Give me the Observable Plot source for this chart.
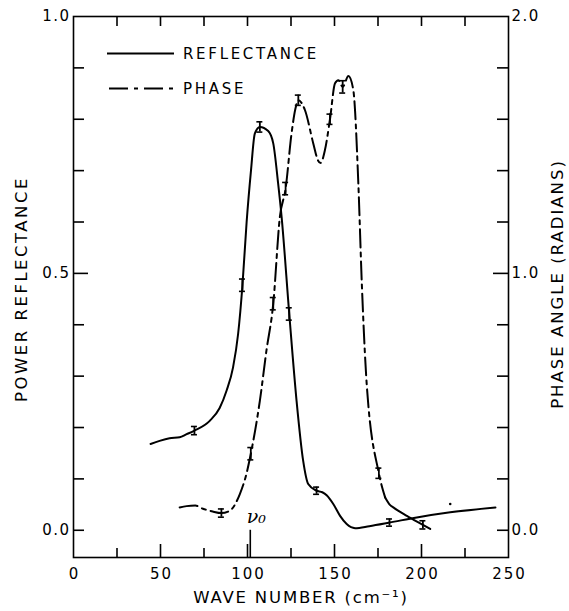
<!DOCTYPE html>
<html><head><meta charset="utf-8">
<script src="https://cdn.jsdelivr.net/npm/d3@7"></script>
<script src="https://cdn.jsdelivr.net/npm/@observablehq/plot@0.6"></script>
<style>
html,body{margin:0;padding:0;background:#fff;}
#wrap{position:relative;width:569px;height:611px;overflow:hidden;}
#legend{position:absolute;left:0;top:0;}
</style></head><body><div id="wrap"></div>
<script>
// Reflectance curve (wave number cm^-1, power reflectance)
const reflX = [44.3, 49.5, 55.2, 61, 65, 69.5, 78.3, 84, 88, 91.7, 94.6, 97.1, 99.5, 102, 104.2, 107.1, 111.9, 114.8, 117.6, 119.6, 124, 128.2, 132, 134.9, 139.7, 143, 145.5, 149.3, 153.2, 157, 161.8, 170, 181.6, 197.3, 216.5, 242.5];
const reflY = [0.168, 0.174, 0.179, 0.181, 0.187, 0.194, 0.213, 0.238, 0.272, 0.317, 0.382, 0.477, 0.6, 0.7, 0.772, 0.785, 0.777, 0.753, 0.675, 0.61, 0.421, 0.252, 0.135, 0.09, 0.077, 0.074, 0.068, 0.051, 0.028, 0.012, 0.004, 0.008, 0.015, 0.025, 0.035, 0.0445];
// Phase curve (radians), dashed part
const phaseX = [61, 65, 70, 74.4, 80, 85, 89.8, 95.6, 99.4, 101.9, 107.1, 110.9, 114.8, 118.6, 121.9, 125.3, 127.5, 129.2, 133, 137.8, 140.5, 142, 144.5, 147.4, 150.3, 152.2, 154.7, 158, 160.8, 163.7, 165.7, 168.5, 175.5, 179.1];
const phaseRad = [0.089, 0.094, 0.096, 0.084, 0.073, 0.067, 0.076, 0.141, 0.22, 0.298, 0.504, 0.70, 0.882, 1.22, 1.33, 1.544, 1.64, 1.674, 1.636, 1.506, 1.44, 1.43, 1.48, 1.60, 1.74, 1.752, 1.726, 1.768, 1.714, 1.35, 0.96, 0.57, 0.222, 0.128];
// Phase curve tail (solid)
const phaseTailX = [179.1, 182, 184, 191.6, 200.8, 205];
const phaseTailRad = [0.128, 0.098, 0.088, 0.056, 0.021, 0.005];
// Error bars
const reflErrX = [69.5, 97.1, 107.1, 124, 139.7, 181.6];
const reflErrY = [0.194, 0.477, 0.785, 0.421, 0.077, 0.015];
const reflErrE = [0.008, 0.012, 0.01, 0.012, 0.007, 0.007];
const phaseErrX = [85, 101.9, 114.8, 121.9, 129.2, 147.4, 154.7, 175.5, 200.8];
const phaseErrRad = [0.067, 0.298, 0.882, 1.33, 1.674, 1.60, 1.726, 0.222, 0.021];
const phaseErrE = [0.016, 0.024, 0.024, 0.024, 0.02, 0.02, 0.024, 0.02, 0.016];
// Stray ink dot in the original figure
const strayX = [216.5];
const strayY = [0.051];
// Ticks and labels
const xTickLabels = [0, 50, 100, 150, 200, 250];
const xMajorTicks = [50, 100, 150, 200];
const xMinorTicks = [25, 75, 125, 175, 225];
const xTopTicks = [25, 50, 75, 100, 125, 150, 175, 200, 225];
const yTicks = [0, 0.1, 0.2, 0.3, 0.4, 0.6, 0.7, 0.8, 0.9];
const yMajorTicks = [0.5];
const yLabelTicks = [0, 0.5, 1.0];
const nu0 = 101.6;
const xTitle = "WAVE NUMBER (cm\u207B\u00B9)";
const yTitle = "POWER REFLECTANCE";
const y2Title = "PHASE ANGLE (RADIANS)";
const legendLabels = ["REFLECTANCE", "PHASE"];

const refl = reflX.map((x, i) => ({x, y: reflY[i]}));
const phase = phaseX.map((x, i) => ({x, y: phaseRad[i] / 2}));
const phaseTail = phaseTailX.map((x, i) => ({x, y: phaseTailRad[i] / 2}));
const errs = [
  ...reflErrX.map((x, i) => ({x, y: reflErrY[i], e: reflErrE[i]})),
  ...phaseErrX.map((x, i) => ({x, y: phaseErrRad[i] / 2, e: phaseErrE[i] / 2}))
];
const stray = strayX.map((x, i) => ({x, y: strayY[i]}));
const yMin = -0.053;
const font = "DejaVu Sans, sans-serif";
const dash = "18,5,4,5";
const W = 569, H = 611, mL = 73, mR = 61, mT = 16, mB = 54;
const fw = W - mL - mR, fh = H - mT - mB;
const tk = {stroke: "#000", strokeWidth: 1.6};

const chart = Plot.plot({
  width: W, height: H,
  marginLeft: mL, marginRight: mR, marginTop: mT, marginBottom: mB,
  style: {fontFamily: font, fontSize: "15px", background: "#fff", color: "#000"},
  x: {domain: [0, 250]},
  y: {domain: [yMin, 1.0]},
  marks: [
    Plot.frame({stroke: "#000", strokeWidth: 1.6}),
    // tick labels
    Plot.axisX({anchor: "bottom", ticks: xTickLabels, tickSize: 0, tickPadding: 11, label: null, tickFormat: d => String(d), dx: 1}),
    Plot.axisY({anchor: "left", ticks: yLabelTicks, tickSize: 0, tickPadding: 3, tickFormat: d => d.toFixed(1), label: null}),
    Plot.axisY({anchor: "right", ticks: yLabelTicks, tickSize: 0, tickPadding: 3, tickFormat: d => (2 * d).toFixed(1), label: null}),
    // inward ticks
    Plot.tickX(xMajorTicks, {x: d => d, insetTop: fh - 13, ...tk}),
    Plot.tickX(xMinorTicks, {x: d => d, insetTop: fh - 9, ...tk}),
    Plot.tickX(xTopTicks, {x: d => d, insetBottom: fh - 10, ...tk}),
    Plot.tickY(yTicks, {y: d => d, insetRight: fw - 11, ...tk}),
    Plot.tickY(yMajorTicks, {y: d => d, insetRight: fw - 15, ...tk}),
    Plot.tickY(yTicks, {y: d => d, insetLeft: fw - 11, ...tk}),
    Plot.tickY(yMajorTicks, {y: d => d, insetLeft: fw - 15, ...tk}),
    // axis titles
    Plot.text([xTitle], {text: d => d, frameAnchor: "bottom", textAnchor: "middle", dy: 45, dx: 10, fontSize: 16.5}),
    Plot.text([yTitle], {text: d => d, frameAnchor: "left", textAnchor: "middle", dx: -52, dy: 2, rotate: -90, fontSize: 16.5}),
    Plot.text([y2Title], {text: d => d, frameAnchor: "right", textAnchor: "middle", dx: 49, dy: -3, rotate: -90, fontSize: 16.5}),
    // nu0 marker
    Plot.ruleX([nu0], {x: d => d, y1: yMin, y2: 0, stroke: "#000", strokeWidth: 1.6}),
    Plot.text([nu0], {x: d => d, y: 0, text: () => "\u03BD\u2080", dx: 6, dy: -13, fontSize: 19, fontStyle: "italic", fontFamily: "DejaVu Serif, serif"}),
    // curves
    Plot.line(refl, {x: "x", y: "y", curve: "monotone-x", stroke: "#000", strokeWidth: 2}),
    Plot.line(phase, {x: "x", y: "y", curve: "monotone-x", stroke: "#000", strokeWidth: 2, strokeDasharray: dash}),
    Plot.line(phaseTail, {x: "x", y: "y", curve: "monotone-x", stroke: "#000", strokeWidth: 2}),
    Plot.dot(stray, {x: "x", y: "y", r: 1.3, fill: "#000", stroke: null}),
    // error bars
    Plot.ruleX(errs, {x: "x", y1: d => d.y - d.e, y2: d => d.y + d.e, stroke: "#000", strokeWidth: 1.8}),
    Plot.ruleY(errs, {y: d => d.y - d.e, x1: "x", x2: "x", insetLeft: -3, insetRight: -3, stroke: "#000", strokeWidth: 1.6}),
    Plot.ruleY(errs, {y: d => d.y + d.e, x1: "x", x2: "x", insetLeft: -3, insetRight: -3, stroke: "#000", strokeWidth: 1.6})
  ]
});
const wrap = document.getElementById("wrap");
wrap.appendChild(chart);

// Letter spacing for the wide lettering of the original (set per text element)
const spacing = new Map([[xTitle, 1.8], [yTitle, 2.5], [y2Title, 2]]);
chart.querySelectorAll("text").forEach(t => {
  const s = t.textContent;
  if (spacing.has(s)) t.setAttribute("letter-spacing", spacing.get(s));
  else if (/^[0-9.]+$/.test(s)) t.setAttribute("letter-spacing", s.includes(".") ? 1.5 : 2);
});

// Legend overlay
const ns = "http://www.w3.org/2000/svg";
const leg = document.createElementNS(ns, "svg");
leg.setAttribute("id", "legend");
leg.setAttribute("width", 569);
leg.setAttribute("height", 120);
const rows = [{y: 53.5, dash: null}, {y: 88.5, dash: dash}];
rows.forEach((r, i) => {
  const ln = document.createElementNS(ns, "line");
  ln.setAttribute("x1", i === 0 ? 107 : 109);
  ln.setAttribute("x2", i === 0 ? 174 : 176);
  ln.setAttribute("y1", r.y); ln.setAttribute("y2", r.y);
  ln.setAttribute("stroke", "#000"); ln.setAttribute("stroke-width", 2);
  if (r.dash) ln.setAttribute("stroke-dasharray", "19,6,4,6");
  leg.appendChild(ln);
  const t = document.createElementNS(ns, "text");
  t.setAttribute("x", 183); t.setAttribute("y", r.y);
  t.setAttribute("dy", "0.36em");
  t.setAttribute("font-family", font);
  t.setAttribute("font-size", 15);
  t.setAttribute("letter-spacing", 2.7);
  t.textContent = legendLabels[i];
  leg.appendChild(t);
});
wrap.appendChild(leg);
</script></body></html>
